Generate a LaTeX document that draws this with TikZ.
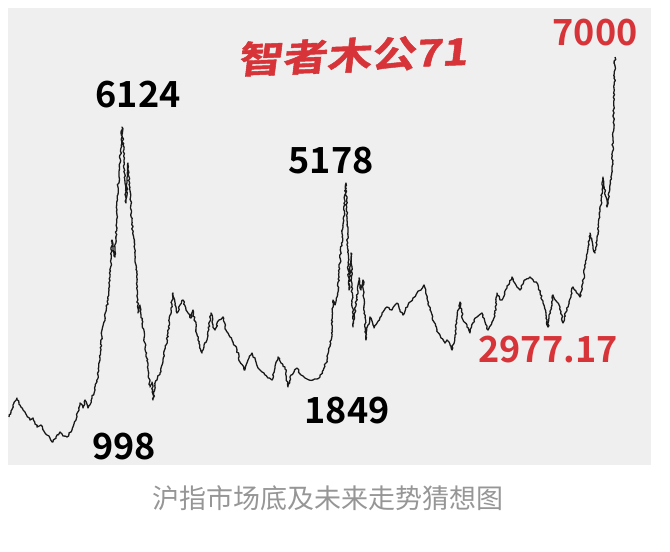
\documentclass[tikz,border=0pt]{standalone}
\usepackage{fontspec}
\usepackage{xcolor}
\usetikzlibrary{decorations.pathmorphing}
\newfontfamily\cjk{Noto Sans CJK SC}
\newfontfamily\cjkbold{Noto Sans CJK SC Bold}
\newfontfamily\cjktitle{Noto Sans CJK SC Bold}[FakeSlant=0.15, FakeBold=1.2]
\definecolor{cred}{RGB}{214,52,56}
\definecolor{cpanel}{RGB}{239,239,239}
\definecolor{ccap}{RGB}{150,150,150}

\begin{document}
\begin{tikzpicture}[x=1pt, y=-1pt,
    value/.style={font=\cjkbold\fontsize{36}{36}\selectfont, inner sep=0pt},
    index/.style={line width=1.3pt, line join=round, color=black!90,
                  decorate, decoration={random steps, segment length=2pt, amplitude=0.9pt}},
  ]
  \pgfmathsetseed{71}
  \useasboundingbox (0,0) rectangle (670,552);
  % Panel
  \fill[cpanel] (8,8) rectangle (651,465);

  % Index line
  \draw[index] plot coordinates {
    (9,417) (13,405) (17,398) (20,405) (25,412) (30,420) (33,418) (37,427)
    (41,425) (45,433) (49,436) (53,442) (56,437) (60,432) (63,436) (67,437)
    (72,430) (76,420) (80,403) (83,408) (85,400) (88,408) (92,398) (95,390)
    (98,375) (100,360) (102,330) (104,322) (105,317) (108,300) (110,277)
    (112,240) (113,250) (115,257) (117,210) (118,187) (120,163) (122,127)
    (124,160) (126,203) (128,163) (130,190) (132,223) (135,255) (137,280)
    (138,313) (140,305) (142,320) (145,343) (148,370) (150,387) (152,382)
    (153,400) (155,385) (157,380) (160,373) (162,365) (163,360) (166,345)
    (168,333) (171,310) (173,293) (175,305) (177,313) (180,305) (183,300)
    (186,310) (188,313) (191,318) (193,310) (196,328) (198,340) (202,353)
    (204,345) (207,340) (209,325) (211,313) (213,325) (215,330) (219,320)
    (223,317) (226,330) (230,337) (233,342) (237,350) (240,362) (245,370)
    (249,358) (252,353) (256,362) (260,370) (264,373) (268,378) (272,380)
    (275,368) (278,357) (281,363) (285,367) (288,387) (291,375) (294,372)
    (297,368) (301,375) (305,378) (309,380) (313,380) (317,379) (320,377)
    (324,368) (327,360) (330,345) (332,330) (333,300) (335,305) (337,297)
    (340,263) (343,227) (346,183) (347,220) (349,290) (351,253) (353,327)
    (355,310) (357,297) (359,278) (361,290) (363,280) (366,340) (368,325)
    (370,317) (374,328) (377,323) (382,313) (387,307) (392,310) (397,303)
    (400,310) (403,315) (408,305) (413,298) (417,293) (421,290) (424,285)
    (427,298) (430,310) (434,322) (437,330) (441,338) (445,343) (447,340)
    (452,350) (455,335) (457,317) (460,302) (463,320) (467,325) (470,333)
    (474,320) (477,317) (482,313) (485,322) (488,330) (492,322) (495,313)
    (497,293) (500,300) (502,300) (507,288) (512,277) (516,285) (520,290)
    (525,280) (530,277) (534,282) (537,283) (540,292) (543,303) (546,315)
    (548,327) (551,308) (553,295) (557,302) (560,307) (563,323) (566,312)
    (568,307) (571,295) (573,287) (577,293) (580,297) (583,282) (585,267)
    (588,248) (590,233) (593,247) (595,253) (597,240) (598,233) (601,205)
    (603,177) (605,192) (607,207) (610,185) (612,170) (613,140) (614,107)
    (615,57)
  };

  % Title
  \node[font=\cjktitle\fontsize{37}{37}\selectfont, text=cred, xscale=1.2,
        rotate=2.6, inner sep=0pt] (title) at (352,55) {智者木公71};

  % Peaks and lows
  \node[value] (peakA) at (138,95) {6124};
  \node[value] (peakB) at (331,161) {5178};
  \node[value] (lowA) at (124,447) {998};
  \node[value] (lowB) at (347,411) {1849};
  \node[value, text=cred] (now) at (548,350) {2977.17};
  \node[value, text=cred] (target) at (595,33) {7000};

  % Caption
  \node[font=\cjk\fontsize{27}{27}\selectfont, text=ccap, inner sep=0pt]
    (caption) at (328,498) {沪指市场底及未来走势猜想图};
\end{tikzpicture}
\end{document}
